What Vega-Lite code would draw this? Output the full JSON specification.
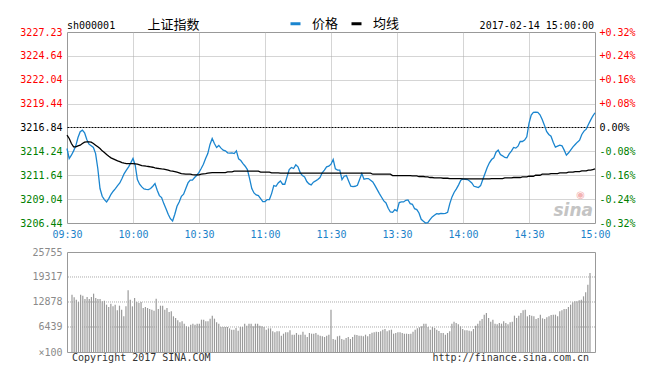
{
"$schema":"https://vega.github.io/schema/vega-lite/v6.json",
"background":"white",
"padding":{"left":19,"top":17,"right":0,"bottom":0},
"autosize":{"type":"pad"},
"spacing":29,
"bounds":"flush",
"config":{
 "view":{"stroke":"#999999","strokeWidth":1},
 "font":"DejaVu Sans Mono",
 "axis":{"domain":false,"ticks":false,"labelFont":"DejaVu Sans Mono","labelFontSize":10,"gridColor":"#aaaaaa","gridDash":[1,1],"gridWidth":1,"title":null,"labelOverlap":false,"labelFlush":false}
},
"datasets":{"m":[
{"t":0,"p":3214.55,"a":3216.00,"v":14766},{"t":1,"p":3213.46,"a":3215.64,"v":14079},{"t":2,"p":3213.82,"a":3215.09,"v":13478},{"t":3,"p":3214.29,"a":3214.73,"v":12878},{"t":4,"p":3214.84,"a":3214.73,"v":14766},{"t":5,"p":3215.75,"a":3214.84,"v":14509},{"t":6,"p":3216.37,"a":3214.91,"v":13650},{"t":7,"p":3216.55,"a":3215.09,"v":14165},{"t":8,"p":3216.26,"a":3215.24,"v":13650},{"t":9,"p":3215.53,"a":3215.28,"v":14165},
{"t":10,"p":3215.02,"a":3215.28,"v":15024},{"t":11,"p":3214.84,"a":3215.24,"v":13908},{"t":12,"p":3214.66,"a":3215.09,"v":13650},{"t":13,"p":3214.00,"a":3214.91,"v":13650},{"t":14,"p":3212.37,"a":3214.73,"v":13049},{"t":15,"p":3210.19,"a":3214.55,"v":13221},{"t":16,"p":3209.35,"a":3214.29,"v":12191},{"t":17,"p":3208.99,"a":3214.11,"v":11590},{"t":18,"p":3208.73,"a":3213.90,"v":12448},{"t":19,"p":3209.10,"a":3213.71,"v":11761},
{"t":20,"p":3209.57,"a":3213.53,"v":12191},{"t":21,"p":3209.90,"a":3213.42,"v":10731},{"t":22,"p":3210.19,"a":3213.31,"v":11933},{"t":23,"p":3210.51,"a":3213.20,"v":10903},{"t":24,"p":3210.80,"a":3213.13,"v":9186},{"t":25,"p":3211.28,"a":3213.02,"v":11761},{"t":26,"p":3211.82,"a":3212.95,"v":15882},{"t":27,"p":3212.19,"a":3212.91,"v":13478},{"t":28,"p":3212.55,"a":3212.91,"v":11761},{"t":29,"p":3212.99,"a":3212.91,"v":13908},
{"t":30,"p":3213.46,"a":3212.91,"v":12878},{"t":31,"p":3212.73,"a":3212.88,"v":12620},{"t":32,"p":3211.17,"a":3212.84,"v":12878},{"t":33,"p":3210.66,"a":3212.77,"v":11332},{"t":34,"p":3210.37,"a":3212.69,"v":11590},{"t":35,"p":3210.15,"a":3212.66,"v":11332},{"t":36,"p":3210.11,"a":3212.62,"v":11075},{"t":37,"p":3210.08,"a":3212.59,"v":10903},{"t":38,"p":3210.19,"a":3212.55,"v":10645},{"t":39,"p":3210.44,"a":3212.51,"v":13736},
{"t":40,"p":3210.73,"a":3212.44,"v":11075},{"t":41,"p":3210.00,"a":3212.40,"v":11933},{"t":42,"p":3209.42,"a":3212.37,"v":11933},{"t":43,"p":3209.20,"a":3212.33,"v":10903},{"t":44,"p":3208.55,"a":3212.30,"v":11332},{"t":45,"p":3208.00,"a":3212.26,"v":10302},{"t":46,"p":3207.39,"a":3212.19,"v":10474},{"t":47,"p":3206.91,"a":3212.11,"v":9186},{"t":48,"p":3206.66,"a":3212.08,"v":8757},{"t":49,"p":3207.39,"a":3212.04,"v":8156},
{"t":50,"p":3208.26,"a":3211.97,"v":7641},{"t":51,"p":3208.73,"a":3211.90,"v":7898},{"t":52,"p":3209.35,"a":3211.82,"v":7297},{"t":53,"p":3209.57,"a":3211.79,"v":6610},{"t":54,"p":3210.19,"a":3211.75,"v":6439},{"t":55,"p":3210.80,"a":3211.75,"v":7040},{"t":56,"p":3211.10,"a":3211.75,"v":7297},{"t":57,"p":3211.10,"a":3211.71,"v":7040},{"t":58,"p":3211.39,"a":3211.68,"v":7297},{"t":59,"p":3211.64,"a":3211.68,"v":7297},
{"t":60,"p":3211.95,"a":3211.68,"v":8327},{"t":61,"p":3212.37,"a":3211.75,"v":8327},{"t":62,"p":3212.84,"a":3211.79,"v":7898},{"t":63,"p":3213.46,"a":3211.82,"v":7898},{"t":64,"p":3214.00,"a":3211.86,"v":8585},{"t":65,"p":3214.99,"a":3211.90,"v":9358},{"t":66,"p":3215.64,"a":3211.93,"v":8585},{"t":67,"p":3215.09,"a":3211.93,"v":7641},{"t":68,"p":3214.66,"a":3211.93,"v":7297},{"t":69,"p":3214.88,"a":3211.93,"v":6439},
{"t":70,"p":3214.59,"a":3211.93,"v":6439},{"t":71,"p":3214.37,"a":3211.93,"v":6439},{"t":72,"p":3214.29,"a":3211.93,"v":6439},{"t":73,"p":3214.08,"a":3212.00,"v":6095},{"t":74,"p":3214.04,"a":3212.00,"v":5752},{"t":75,"p":3214.08,"a":3212.00,"v":5752},{"t":76,"p":3214.00,"a":3212.08,"v":6181},{"t":77,"p":3214.29,"a":3212.08,"v":5494},{"t":78,"p":3213.42,"a":3212.08,"v":6439},{"t":79,"p":3213.24,"a":3212.08,"v":6439},
{"t":80,"p":3212.91,"a":3212.08,"v":7297},{"t":81,"p":3212.62,"a":3212.08,"v":6782},{"t":82,"p":3212.26,"a":3212.08,"v":7297},{"t":83,"p":3211.28,"a":3212.08,"v":7297},{"t":84,"p":3210.19,"a":3212.08,"v":6610},{"t":85,"p":3209.71,"a":3212.08,"v":7297},{"t":86,"p":3209.50,"a":3212.08,"v":7297},{"t":87,"p":3209.42,"a":3212.08,"v":6782},{"t":88,"p":3209.10,"a":3211.97,"v":6610},{"t":89,"p":3208.77,"a":3211.97,"v":6439},
{"t":90,"p":3208.77,"a":3211.97,"v":5752},{"t":91,"p":3208.99,"a":3211.97,"v":6095},{"t":92,"p":3208.99,"a":3211.97,"v":6095},{"t":93,"p":3209.64,"a":3211.90,"v":5323},{"t":94,"p":3210.51,"a":3211.90,"v":5065},{"t":95,"p":3210.44,"a":3211.90,"v":5323},{"t":96,"p":3210.80,"a":3211.90,"v":5323},{"t":97,"p":3211.02,"a":3211.86,"v":4207},{"t":98,"p":3210.66,"a":3211.86,"v":4722},{"t":99,"p":3210.66,"a":3211.86,"v":5065},
{"t":100,"p":3211.46,"a":3211.86,"v":5065},{"t":101,"p":3212.26,"a":3211.86,"v":5580},{"t":102,"p":3212.48,"a":3211.86,"v":4464},{"t":103,"p":3212.37,"a":3211.86,"v":4464},{"t":104,"p":3212.77,"a":3211.86,"v":4893},{"t":105,"p":3212.55,"a":3211.86,"v":4464},{"t":106,"p":3211.93,"a":3211.86,"v":4464},{"t":107,"p":3211.60,"a":3211.86,"v":5237},{"t":108,"p":3211.46,"a":3211.86,"v":4464},{"t":109,"p":3210.95,"a":3211.86,"v":3863},
{"t":110,"p":3210.70,"a":3211.86,"v":4893},{"t":111,"p":3210.59,"a":3211.86,"v":4722},{"t":112,"p":3210.88,"a":3211.86,"v":4722},{"t":113,"p":3211.02,"a":3211.86,"v":4893},{"t":114,"p":3211.17,"a":3211.86,"v":4464},{"t":115,"p":3211.39,"a":3211.86,"v":4207},{"t":116,"p":3211.90,"a":3211.86,"v":4035},{"t":117,"p":3212.19,"a":3211.86,"v":3863},{"t":118,"p":3212.55,"a":3211.86,"v":4207},{"t":119,"p":3212.62,"a":3211.86,"v":4464},
{"t":120,"p":3212.84,"a":3211.86,"v":10903},{"t":121,"p":3213.35,"a":3211.86,"v":3348},{"t":122,"p":3212.33,"a":3211.86,"v":3176},{"t":123,"p":3212.19,"a":3211.86,"v":4035},{"t":124,"p":3212.19,"a":3211.86,"v":4207},{"t":125,"p":3211.17,"a":3211.86,"v":3348},{"t":126,"p":3211.53,"a":3211.86,"v":3176},{"t":127,"p":3211.60,"a":3211.86,"v":3606},{"t":128,"p":3211.02,"a":3211.86,"v":3863},{"t":129,"p":3210.44,"a":3211.86,"v":3348},
{"t":130,"p":3210.40,"a":3211.86,"v":3863},{"t":131,"p":3210.44,"a":3211.86,"v":4464},{"t":132,"p":3210.55,"a":3211.86,"v":4378},{"t":133,"p":3211.17,"a":3211.86,"v":4207},{"t":134,"p":3211.82,"a":3211.86,"v":4207},{"t":135,"p":3211.20,"a":3211.86,"v":4035},{"t":136,"p":3211.28,"a":3211.86,"v":4464},{"t":137,"p":3211.28,"a":3211.86,"v":4035},{"t":138,"p":3211.10,"a":3211.86,"v":4636},{"t":139,"p":3210.91,"a":3211.75,"v":4979},
{"t":140,"p":3210.51,"a":3211.75,"v":5065},{"t":141,"p":3210.08,"a":3211.75,"v":5237},{"t":142,"p":3209.64,"a":3211.75,"v":5151},{"t":143,"p":3209.24,"a":3211.75,"v":5323},{"t":144,"p":3208.84,"a":3211.75,"v":5752},{"t":145,"p":3208.62,"a":3211.75,"v":5924},{"t":146,"p":3208.04,"a":3211.75,"v":5323},{"t":147,"p":3207.64,"a":3211.75,"v":5580},{"t":148,"p":3207.60,"a":3211.60,"v":5752},{"t":149,"p":3207.90,"a":3211.60,"v":4722},
{"t":150,"p":3207.75,"a":3211.60,"v":4893},{"t":151,"p":3208.66,"a":3211.60,"v":5065},{"t":152,"p":3208.73,"a":3211.60,"v":5065},{"t":153,"p":3208.73,"a":3211.60,"v":4893},{"t":154,"p":3208.91,"a":3211.60,"v":4722},{"t":155,"p":3208.95,"a":3211.60,"v":4722},{"t":156,"p":3208.55,"a":3211.60,"v":4636},{"t":157,"p":3208.48,"a":3211.57,"v":4722},{"t":158,"p":3208.00,"a":3211.57,"v":5237},{"t":159,"p":3207.90,"a":3211.57,"v":5752},
{"t":160,"p":3207.53,"a":3211.50,"v":6095},{"t":161,"p":3206.84,"a":3211.50,"v":6353},{"t":162,"p":3206.62,"a":3211.50,"v":6610},{"t":163,"p":3206.44,"a":3211.46,"v":7297},{"t":164,"p":3206.48,"a":3211.46,"v":7297},{"t":165,"p":3206.80,"a":3211.39,"v":6439},{"t":166,"p":3207.10,"a":3211.39,"v":5752},{"t":167,"p":3207.28,"a":3211.35,"v":6439},{"t":168,"p":3207.46,"a":3211.35,"v":6181},{"t":169,"p":3207.42,"a":3211.35,"v":5752},
{"t":170,"p":3207.49,"a":3211.35,"v":5409},{"t":171,"p":3207.46,"a":3211.31,"v":4893},{"t":172,"p":3207.49,"a":3211.31,"v":4893},{"t":173,"p":3207.60,"a":3211.31,"v":4464},{"t":174,"p":3208.55,"a":3211.28,"v":4893},{"t":175,"p":3209.28,"a":3211.28,"v":5323},{"t":176,"p":3209.79,"a":3211.28,"v":7297},{"t":177,"p":3210.15,"a":3211.28,"v":7812},{"t":178,"p":3210.59,"a":3211.28,"v":7469},{"t":179,"p":3211.10,"a":3211.28,"v":7126},
{"t":180,"p":3211.24,"a":3211.24,"v":6610},{"t":181,"p":3211.20,"a":3211.24,"v":5924},{"t":182,"p":3211.17,"a":3211.24,"v":5580},{"t":183,"p":3211.02,"a":3211.24,"v":5580},{"t":184,"p":3210.80,"a":3211.24,"v":5494},{"t":185,"p":3210.44,"a":3211.24,"v":5323},{"t":186,"p":3210.37,"a":3211.24,"v":5924},{"t":187,"p":3210.30,"a":3211.24,"v":6782},{"t":188,"p":3210.51,"a":3211.24,"v":7297},{"t":189,"p":3211.17,"a":3211.24,"v":8070},
{"t":190,"p":3211.82,"a":3211.24,"v":8499},{"t":191,"p":3212.48,"a":3211.24,"v":9615},{"t":192,"p":3212.99,"a":3211.24,"v":10044},{"t":193,"p":3213.35,"a":3211.28,"v":8757},{"t":194,"p":3213.53,"a":3211.28,"v":7812},{"t":195,"p":3214.15,"a":3211.28,"v":8327},{"t":196,"p":3214.37,"a":3211.28,"v":7297},{"t":197,"p":3213.90,"a":3211.28,"v":7126},{"t":198,"p":3213.75,"a":3211.28,"v":7469},{"t":199,"p":3213.57,"a":3211.35,"v":7297},
{"t":200,"p":3213.53,"a":3211.35,"v":7898},{"t":201,"p":3213.97,"a":3211.35,"v":7469},{"t":202,"p":3214.26,"a":3211.35,"v":7126},{"t":203,"p":3214.66,"a":3211.39,"v":7641},{"t":204,"p":3214.59,"a":3211.39,"v":7812},{"t":205,"p":3214.80,"a":3211.39,"v":9358},{"t":206,"p":3215.31,"a":3211.39,"v":8757},{"t":207,"p":3215.31,"a":3211.46,"v":9358},{"t":208,"p":3215.46,"a":3211.46,"v":10044},{"t":209,"p":3215.82,"a":3211.46,"v":10731},
{"t":210,"p":3217.28,"a":3211.53,"v":10903},{"t":211,"p":3218.19,"a":3211.53,"v":9186},{"t":212,"p":3218.48,"a":3211.53,"v":9529},{"t":213,"p":3218.51,"a":3211.64,"v":9358},{"t":214,"p":3218.48,"a":3211.64,"v":9186},{"t":215,"p":3218.22,"a":3211.64,"v":8499},{"t":216,"p":3217.71,"a":3211.75,"v":8757},{"t":217,"p":3217.09,"a":3211.75,"v":9615},{"t":218,"p":3216.40,"a":3211.75,"v":8671},{"t":219,"p":3216.08,"a":3211.75,"v":8499},
{"t":220,"p":3215.89,"a":3211.82,"v":8928},{"t":221,"p":3215.24,"a":3211.82,"v":9186},{"t":222,"p":3214.69,"a":3211.82,"v":9529},{"t":223,"p":3214.80,"a":3211.82,"v":9615},{"t":224,"p":3214.91,"a":3211.90,"v":9615},{"t":225,"p":3214.84,"a":3211.90,"v":9186},{"t":226,"p":3214.37,"a":3211.90,"v":10474},{"t":227,"p":3213.82,"a":3211.90,"v":10731},{"t":228,"p":3214.08,"a":3211.97,"v":11075},{"t":229,"p":3214.40,"a":3211.97,"v":11075},
{"t":230,"p":3214.73,"a":3211.97,"v":11590},{"t":231,"p":3214.99,"a":3212.04,"v":12191},{"t":232,"p":3215.24,"a":3212.04,"v":12792},{"t":233,"p":3215.46,"a":3212.04,"v":13049},{"t":234,"p":3216.08,"a":3212.11,"v":13049},{"t":235,"p":3216.44,"a":3212.11,"v":13307},{"t":236,"p":3216.66,"a":3212.11,"v":13478},{"t":237,"p":3217.17,"a":3212.19,"v":14337},{"t":238,"p":3217.64,"a":3212.19,"v":15367},{"t":239,"p":3218.08,"a":3212.26,"v":17342},
{"t":240,"p":3218.44,"a":3212.33,"v":20346}
]},
"vconcat":[
{
 "width":528,"height":191,
 "layer":[
  {"data":{"name":"m"},
   "mark":{"type":"line","strokeWidth":1.3},
   "encoding":{
    "x":{"field":"t","type":"quantitative","scale":{"domain":[0,240],"nice":false,"zero":false},
      "axis":{"values":[0,30,60,90,120,150,180,210,240],"labelExpr":"['09:30','10:00','10:30','11:00','11:30','13:30','14:00','14:30','15:00'][round(datum.value/30)]","labelColor":"#1b82c9","labelPadding":6,"grid":true,"labelOverlap":false,
       "gridOpacity":{"condition":{"test":"datum.value == 0 || datum.value == 240","value":0},"value":1}}},
    "y":{"field":"p","type":"quantitative","scale":{"domain":[3206.44,3227.23],"nice":false,"zero":false},
      "axis":{"orient":"left","values":[3206.44,3209.04,3211.64,3214.24,3216.84,3219.44,3222.04,3224.64,3227.23],"labelExpr":"format(datum.value,'.2f')","labelPadding":5,"grid":true,"labelOverlap":false,
       "labelColor":{"condition":[{"test":"datum.value > 3216.9","value":"#ff0000"},{"test":"datum.value < 3216.8","value":"#008000"}],"value":"#000000"},
       "gridColor":{"condition":{"test":"abs(datum.value-3216.84) < 0.01","value":"#000000"},"value":"#aaaaaa"},
       "gridDash":{"condition":{"test":"abs(datum.value-3216.84) < 0.01","value":[2,1]},"value":[1,1]},
       "gridOpacity":{"condition":{"test":"datum.value > 3227 || datum.value < 3206.5","value":0},"value":1}}},
    "color":{"datum":"价格","type":"nominal","scale":{"domain":["价格","均线"],"range":["#1a85cf","#000000"]},
      "legend":{"orient":"none","legendX":222,"legendY":-15,"direction":"horizontal","title":null,"padding":0,"symbolType":"stroke","symbolSize":100,"symbolStrokeWidth":3,"labelFont":"Noto Sans CJK SC","labelFontSize":13,"labelOffset":10,"columnPadding":6,
       "labelColor":{"condition":{"test":"datum.label == '价格'","value":"#1a85cf"},"value":"#000000"}}}
   }},
  {"data":{"name":"m"},
   "mark":{"type":"line","strokeWidth":1.3},
   "encoding":{
    "x":{"field":"t","type":"quantitative"},
    "y":{"field":"a","type":"quantitative",
      "axis":{"orient":"right","values":[3206.44,3209.04,3211.64,3214.24,3216.84,3219.44,3222.04,3224.64,3227.23],"labelExpr":"(datum.value > 3216.9 ? '+' : datum.value < 3216.8 ? '-' : '') + format(abs(datum.value-3216.84)/3216.84*100,'.2f') + '%'","labelPadding":4,"grid":false,"labelOverlap":false,
       "labelColor":{"condition":[{"test":"datum.value > 3216.9","value":"#ff0000"},{"test":"datum.value < 3216.8","value":"#008000"}],"value":"#000000"}}},
    "color":{"datum":"均线","type":"nominal"}
   }},
  {"data":{"values":[{"label":"sh000001"}]},
   "mark":{"type":"text","align":"left","baseline":"alphabetic","dy":-3,"fontSize":10,"font":"DejaVu Sans Mono","color":"#000000"},
   "encoding":{"x":{"datum":0,"type":"quantitative"},"y":{"datum":3227.23,"type":"quantitative","axis":null},"text":{"field":"label"}}},
  {"data":{"values":[{"label":"上证指数"}]},
   "mark":{"type":"text","align":"left","baseline":"alphabetic","dy":-3,"fontSize":13,"font":"Noto Sans CJK SC","color":"#000000"},
   "encoding":{"x":{"datum":36.6,"type":"quantitative"},"y":{"datum":3227.23,"type":"quantitative","axis":null},"text":{"field":"label"}}},
  {"data":{"values":[{"label":"2017-02-14 15:00:00"}]},
   "mark":{"type":"text","align":"right","baseline":"alphabetic","dy":-3,"dx":-1,"fontSize":10,"font":"DejaVu Sans Mono","color":"#000000"},
   "encoding":{"x":{"datum":240,"type":"quantitative"},"y":{"datum":3227.23,"type":"quantitative","axis":null},"text":{"field":"label"}}},
  {"data":{"values":[{"label":"sina"}]},
   "mark":{"type":"text","align":"right","baseline":"alphabetic","dx":-2,"fontSize":17,"fontStyle":"italic","fontWeight":"bold","font":"DejaVu Sans","color":"#c4c4c4"},
   "encoding":{"x":{"datum":240,"type":"quantitative"},"y":{"datum":3207.2,"type":"quantitative","axis":null},"text":{"field":"label"}}},
  {"data":{"values":[{"label":"◉"}]},
   "mark":{"type":"text","align":"center","baseline":"middle","fontSize":10,"font":"DejaVu Sans","color":"#f3b3b3"},
   "encoding":{"x":{"datum":233.5,"type":"quantitative"},"y":{"datum":3209.5,"type":"quantitative","axis":null},"text":{"field":"label"}}}
 ],
 "resolve":{"axis":{"y":"independent"}}
},
{
 "width":528,"height":100,
 "layer":[
  {"data":{"values":[{"g":6439},{"g":12878},{"g":19317}]},
   "mark":{"type":"rule","color":"#aaaaaa","strokeWidth":1,"strokeDash":[1,1]},
   "encoding":{"y":{"field":"g","type":"quantitative","axis":null}}},
  {"data":{"name":"m"},
   "mark":{"type":"bar","width":1.2,"color":"#9a9a9a"},
   "encoding":{
    "x":{"field":"t","type":"quantitative","scale":{"domain":[0,240],"nice":false,"zero":false},
      "axis":{"values":[30,60,90,120,150,180,210],"labels":false,"grid":true}},
    "y":{"field":"v","type":"quantitative","scale":{"domain":[0,25755],"nice":false,"zero":true},
      "axis":{"orient":"left","values":[0,6439,12878,19317,25755],"labelExpr":"datum.value == 0 ? '×100' : format(datum.value,'d')","labelColor":"#8a8a8a","labelPadding":5,"grid":false,"labelOverlap":false}}
   }},
  {"data":{"values":[{"label":"Copyright 2017 SINA.COM"}]},
   "mark":{"type":"text","align":"left","baseline":"top","dy":1,"fontSize":10,"font":"DejaVu Sans Mono","color":"#333333"},
   "encoding":{"x":{"datum":0,"type":"quantitative","axis":null},"y":{"datum":0,"type":"quantitative","axis":null},"text":{"field":"label"}}},
  {"data":{"values":[{"label":"http://finance.sina.com.cn"}]},
   "mark":{"type":"text","align":"right","baseline":"top","dy":1,"dx":-1,"fontSize":10,"font":"DejaVu Sans Mono","color":"#333333"},
   "encoding":{"x":{"datum":240,"type":"quantitative","axis":null},"y":{"datum":0,"type":"quantitative","axis":null},"text":{"field":"label"}}}
 ],
 "resolve":{"axis":{"y":"independent"}}
}
]
}
